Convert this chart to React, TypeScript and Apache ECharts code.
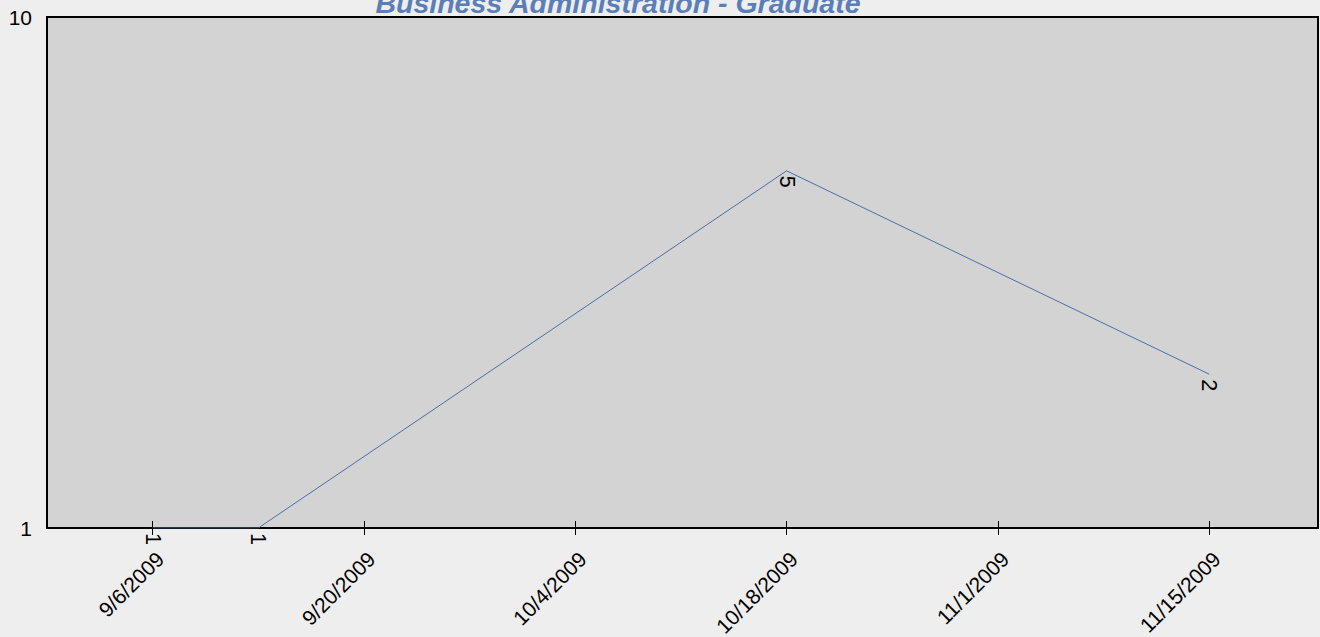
import React, { useEffect, useRef } from "react";
import * as echarts from "echarts";

const TITLE = "Business Administration - Graduate";
const pointDates = ["2009-09-06", "2009-09-13", "2009-10-18", "2009-11-15"];
const pointValues = [1, 1, 5, 2];
const tickDates = ["2009-09-06", "2009-09-20", "2009-10-04", "2009-10-18", "2009-11-01", "2009-11-15"];
const xRange = ["2009-08-30T00", "2009-11-22T05"];
const yRange = [1, 10];

const ts = (s: string) => {
  const [datePart, hourPart] = s.split("T");
  const [y, m, d] = datePart.split("-").map(Number);
  return Date.UTC(y, m - 1, d, hourPart ? Number(hourPart) : 0);
};
const fmt = (v: number) => {
  const d = new Date(v);
  return `${d.getUTCMonth() + 1}/${d.getUTCDate()}/${d.getUTCFullYear()}`;
};

const FONT = "Arial, 'Liberation Sans', sans-serif";

export default function App() {
  const ref = useRef<HTMLDivElement>(null);
  useEffect(() => {
    if (!ref.current) return;
    const chart = echarts.init(ref.current, null, { renderer: "svg" });
    const ticks = tickDates.map(ts);
    chart.setOption({
      animation: false,
      backgroundColor: "#eeeeee",
      title: {
        text: TITLE,
        left: 613,
        top: -17,
        textAlign: "center",
        textStyle: {
          fontFamily: FONT,
          fontSize: 28.5,
          fontWeight: "bold",
          fontStyle: "italic",
          color: "#5a7fb8",
        },
      },
      grid: {
        left: 47,
        top: 17,
        width: 1271,
        height: 511,
        show: true,
        backgroundColor: "#d3d3d3",
        borderColor: "#000",
        borderWidth: 2,
        containLabel: false,
        outerBoundsMode: "none",
      },
      xAxis: [
        {
          type: "value",
          position: "bottom",
          min: ts(xRange[0]),
          max: ts(xRange[1]),
          axisLine: { show: true, lineStyle: { color: "#000", width: 2 } },
          axisTick: { show: true, inside: false, length: 7, customValues: ticks, lineStyle: { color: "#000", width: 1 } },
          axisLabel: {
            show: true,
            customValues: ticks,
            formatter: (v: number) => fmt(v),
            rotate: 45,
            margin: 20,
            verticalAlign: "top",
            fontSize: 21,
            fontFamily: FONT,
            color: "#000",
            hideOverlap: false,
          },
          splitLine: { show: false },
        },
        {
          type: "value",
          position: "bottom",
          offset: 0,
          min: ts(xRange[0]),
          max: ts(xRange[1]),
          axisLine: { show: false },
          axisTick: { show: true, inside: true, length: 7, customValues: ticks, lineStyle: { color: "#000", width: 1 } },
          axisLabel: { show: false },
          splitLine: { show: false },
        },
      ],
      yAxis: {
        type: "log",
        logBase: 10,
        min: yRange[0],
        max: yRange[1],
        axisLine: { show: true, lineStyle: { color: "#000", width: 2 } },
        axisTick: { show: false },
        splitLine: { show: false },
        minorTick: { show: false },
        axisLabel: { fontSize: 21, fontFamily: FONT, color: "#000", margin: 15 },
      },
      series: [
        {
          type: "line",
          xAxisIndex: 0,
          data: pointDates.map((d, i) => [ts(d), pointValues[i]]),
          symbol: "circle",
          symbolSize: 0,
          showSymbol: true,
          lineStyle: { color: "#4a6fa8", width: 1 },
          itemStyle: { color: "#4a6fa8" },
          label: {
            show: true,
            position: "bottom",
            distance: 5,
            rotate: -90,
            align: "left",
            verticalAlign: "middle",
            fontSize: 21.5,
            fontFamily: FONT,
            color: "#000",
            formatter: (p: any) => String(p.value[1]),
          },
        },
      ],
    });
    return () => chart.dispose();
  }, []);
  return (
    <div
      ref={ref}
      style={{ position: "fixed", left: 0, top: 0, width: 1320, height: 637, background: "#eeeeee" }}
    />
  );
}
